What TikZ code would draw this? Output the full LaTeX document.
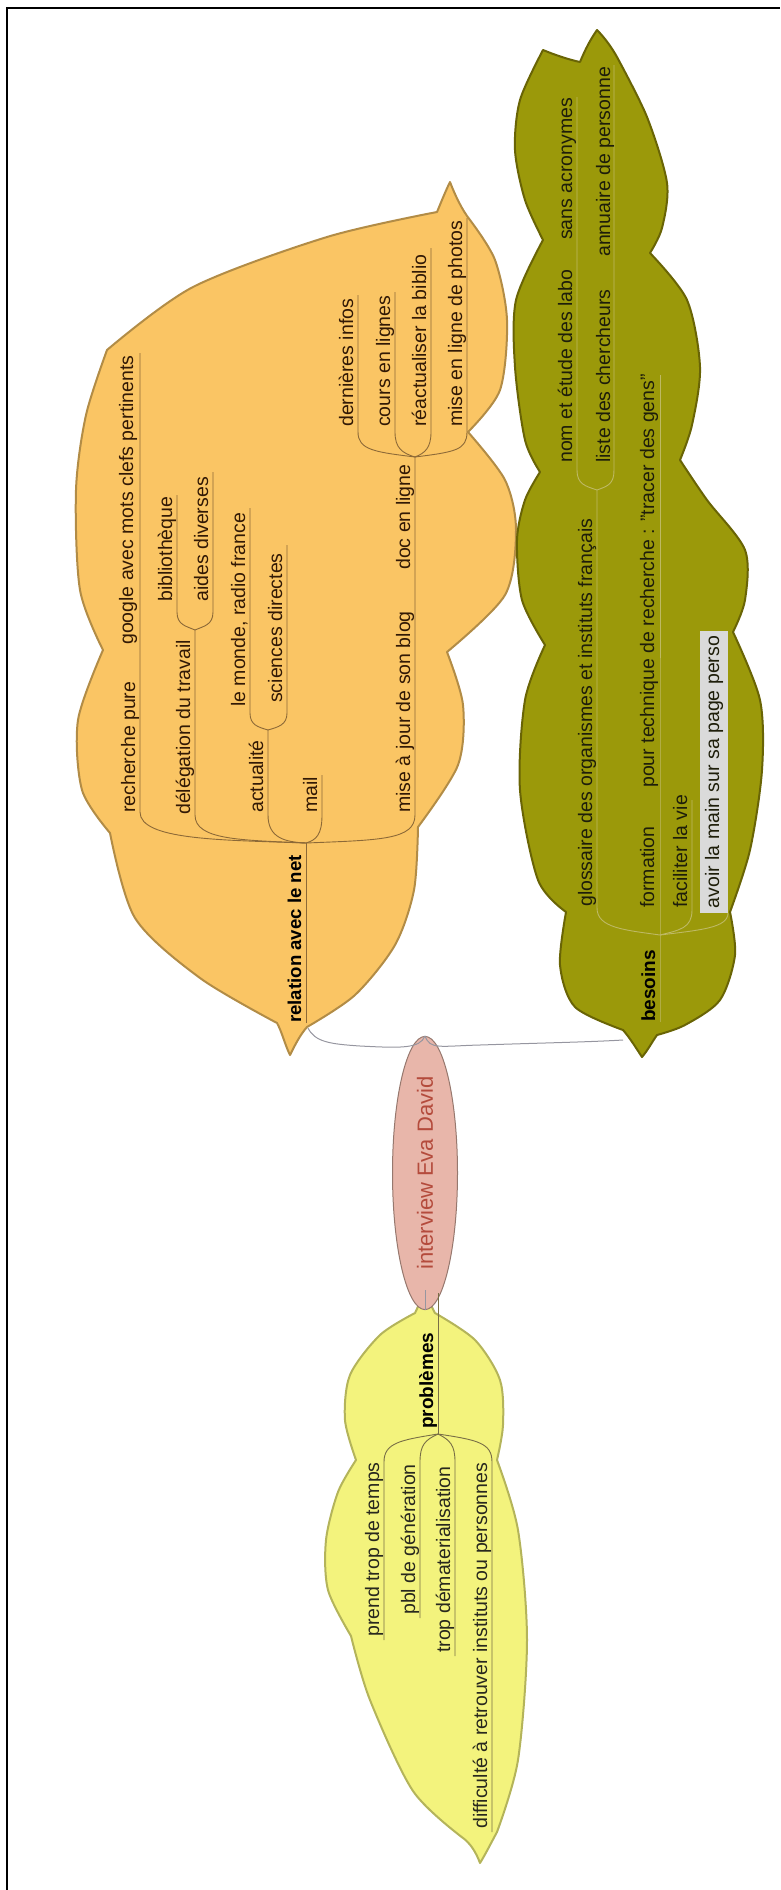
\documentclass[tikz,border=0pt]{standalone}
\usepackage{fontspec}
\setmainfont{Liberation Sans}
\usetikzlibrary{shapes.geometric}
\definecolor{orFill}{RGB}{250,197,100}
\definecolor{orLine}{RGB}{178,140,70}
\definecolor{orBr}{RGB}{140,105,55}
\definecolor{orText}{RGB}{50,25,5}
\definecolor{yeFill}{RGB}{243,243,125}
\definecolor{yeLine}{RGB}{180,180,90}
\definecolor{yeBr}{RGB}{120,110,70}
\definecolor{yeText}{RGB}{40,40,30}
\definecolor{olFill}{RGB}{155,153,10}
\definecolor{olLine}{RGB}{105,100,5}
\definecolor{olBr}{RGB}{190,185,100}
\definecolor{olText}{RGB}{30,30,10}
\definecolor{rtFill}{RGB}{232,182,170}
\definecolor{rtLine}{RGB}{150,120,110}
\definecolor{rtText}{RGB}{180,75,60}
\definecolor{connCol}{RGB}{150,150,160}
\definecolor{boxGrey}{RGB}{218,218,218}
\begin{document}
\begin{tikzpicture}[x=1pt,y=-1pt,
  lbl/.style={rotate=90, anchor=base west, inner sep=0pt, font=\fontsize{19.5}{22}\selectfont},
  olbl/.style={lbl, text=orText},
  ylbl/.style={lbl, text=yeText},
  vlbl/.style={lbl, text=olText},
  bold/.style={font=\fontsize{19}{22}\selectfont\bfseries, text=black},
  obr/.style={draw=orBr, line width=0.9pt},
  ybr/.style={draw=yeBr, line width=0.9pt},
  vbr/.style={draw=olBr, line width=0.9pt},
  conn/.style={draw=connCol, line width=1pt}]
\useasboundingbox (0,0) rectangle (780,1890);
% frame
\draw[line width=2pt] (7,1890) -- (7,8) -- (780,8);

% ---------- orange shape ----------
\path[fill=orFill, draw=orLine, line width=2pt, line join=round] (450,182)
  .. controls (455,195) and (462,210) .. (470,220)
  -- plot[smooth] coordinates {(470,220) (495,260) (507,320) (500,390) (468,432)}
  -- plot[smooth] coordinates {(468,432) (505,480) (516,530) (505,595) (447,652)}
  -- plot[smooth] coordinates {(447,652) (463,705) (458,765) (418,827)}
  -- plot[smooth] coordinates {(418,827) (414,890) (395,945) (355,995) (307,1027)}
  .. controls (300,1035) and (295,1045) .. (290,1055)
  .. controls (285,1045) and (282,1032) .. (277,1023)
  -- plot[smooth] coordinates {(277,1023) (200,978) (135,918) (110,833)}
  -- plot[smooth] coordinates {(110,833) (82,790) (78,720) (103,650)}
  -- plot[smooth] coordinates {(103,650) (80,590) (76,490) (86,415) (107,350)}
  -- plot[smooth] coordinates {(107,350) (193,287) (327,237) (437,212)}
  .. controls (442,200) and (446,190) .. (450,182) -- cycle;

% ---------- olive shape ----------
\path[fill=olFill, draw=olLine, line width=2pt, line join=round] (597,30)
  .. controls (605,38) and (612,48) .. (617,57)
  -- plot[smooth] coordinates {(617,57) (647,117) (667,183) (662,228) (650,253)}
  -- plot[smooth] coordinates {(650,253) (687,300) (700,367) (692,425) (680,460)}
  -- plot[smooth] coordinates {(680,460) (707,500) (745,550) (745,600) (733,632)}
  -- plot[smooth] coordinates {(733,632) (760,700) (762,770) (750,850) (730,912)}
  -- plot[smooth] coordinates {(730,912) (735,955) (720,1000) (685,1025) (657,1035)}
  .. controls (652,1042) and (648,1050) .. (642,1057)
  .. controls (636,1048) and (630,1038) .. (623,1030)
  -- plot[smooth] coordinates {(623,1030) (575,1007) (560,965) (566,912)}
  -- plot[smooth] coordinates {(566,912) (538,880) (520,790) (525,700) (545,645)}
  -- plot[smooth] coordinates {(545,645) (522,600) (517,540) (525,500) (540,472)}
  -- plot[smooth] coordinates {(540,472) (525,440) (515,367) (516,300) (543,240)}
  -- plot[smooth] coordinates {(543,240) (525,200) (515,150) (520,100) (543,50)}
  .. controls (555,55) and (570,60) .. (580,62)
  .. controls (585,50) and (590,40) .. (597,30) -- cycle;

% ---------- yellow shape ----------
\path[fill=yeFill, draw=yeLine, line width=2pt, line join=round] (425,1288)
  .. controls (428,1298) and (431,1306) .. (435,1313)
  -- plot[smooth] coordinates {(435,1313) (475,1340) (500,1380) (503,1425) (497,1460)}
  -- plot[smooth] coordinates {(497,1460) (518,1530) (527,1640) (518,1760) (497,1832)}
  .. controls (490,1845) and (485,1855) .. (480,1863)
  .. controls (476,1852) and (470,1843) .. (463,1838)
  -- plot[smooth] coordinates {(463,1838) (413,1791) (370,1700) (351,1636)}
  -- plot[smooth] coordinates {(351,1636) (328,1590) (326,1540) (338,1492) (356,1460)}
  -- plot[smooth] coordinates {(356,1460) (345,1420) (350,1375) (380,1335) (415,1313)}
  .. controls (419,1305) and (422,1296) .. (425,1288) -- cycle;

% ---------- root ----------
\node[ellipse, rotate=90, fill=rtFill, draw=rtLine, line width=1pt, minimum width=230pt, minimum height=65pt, inner sep=0pt,
      text=rtText, font=\fontsize{22}{24}\selectfont] (root) at (425,1173) {interview Eva David};
\coordinate (otip) at (308,1028);
\coordinate (btip) at (623,1040);
\coordinate (ytip) at (425,1290);
\draw[conn] (otip) .. controls (315,1042) and (330,1044) .. (360,1046)
  .. controls (400,1048) and (420,1049) .. (root.east);
\draw[conn] (root.east) .. controls (430,1050) and (440,1046) .. (480,1045)
  .. controls (540,1043) and (590,1042) .. (btip);
\draw[conn] (root.west) -- (ytip);

% ---------- orange branches ----------
\coordinate (oj) at (306,843);
\coordinate (oj2) at (195,630);
\coordinate (oj3) at (268,730);
\coordinate (oj4) at (415,457);
\draw[obr] (306,1023) -- (oj);
\draw[obr] (oj) .. controls (220,840) and (140,840) .. (140,812) -- (140,353);
\draw[obr] (oj) .. controls (240,840) and (195,840) .. (195,815) -- (oj2);
\draw[obr] (oj) .. controls (285,842) and (268,838) .. (268,815) -- (oj3);
\draw[obr] (oj) .. controls (316,840) and (322,835) .. (322,815) -- (322,775);
\draw[obr] (oj) .. controls (380,840) and (415,840) .. (415,815) -- (oj4);
\draw[obr] (oj2) .. controls (186,626) and (177,625) .. (177,612) -- (177,495);
\draw[obr] (oj2) .. controls (204,626) and (213,625) .. (213,612) -- (213,472);
\draw[obr] (oj3) .. controls (258,727) and (250,725) .. (250,713) -- (250,508);
\draw[obr] (oj3) .. controls (278,727) and (287,725) .. (287,713) -- (287,545);
\draw[obr] (oj4) .. controls (375,452) and (358,450) .. (358,432) -- (358,295);
\draw[obr] (oj4) .. controls (402,453) and (395,448) .. (395,432) -- (395,292);
\draw[obr] (oj4) .. controls (425,453) and (431,448) .. (431,432) -- (431,248);
\draw[obr] (oj4) .. controls (455,452) and (467,450) .. (467,432) -- (467,218);

% ---------- yellow branches ----------
\coordinate (yj) at (438,1434);
\draw[ybr] (438,1293) -- (yj);
\draw[ybr] (yj) .. controls (400,1440) and (384,1443) .. (384,1462) -- (384,1640);
\draw[ybr] (yj) .. controls (425,1440) and (420,1445) .. (420,1462) -- (420,1618);
\draw[ybr] (yj) .. controls (450,1440) and (455,1445) .. (455,1462) -- (455,1656);
\draw[ybr] (yj) .. controls (478,1440) and (492,1443) .. (492,1462) -- (492,1832);

% ---------- olive branches ----------
\coordinate (vj) at (660,935);
\coordinate (vj2) at (597,490);
\draw[vbr] (660,1022) -- (vj) -- (660,375);
\draw[vbr] (vj) .. controls (625,930) and (597,928) .. (597,908) -- (vj2);
\draw[vbr] (vj2) .. controls (585,486) and (577,484) .. (577,470) -- (577,97);
\draw[vbr] (vj2) .. controls (608,486) and (614,484) .. (614,470) -- (614,65);
\draw[vbr] (vj) .. controls (680,930) and (692,928) .. (692,910) -- (692,800);
\draw[vbr] (vj) .. controls (700,930) and (728,928) .. (728,913);

% ---------- orange labels ----------
\node[olbl, bold, font=\fontsize{18.6}{22}\selectfont\bfseries] (rel) at (301,1023) {relation avec le net};
\node[olbl] (rp) at (135,813) {recherche pure};
\node[olbl] (goo) at (133,645) {google avec mots clefs pertinents};
\node[olbl] (del) at (190,815) {délégation du travail};
\node[olbl] (bib) at (172,602) {bibliothèque};
\node[olbl] (aid) at (208,602) {aides diverses};
\node[olbl] (act) at (263,813) {actualité};
\node[olbl] (mon) at (245,707) {le monde, radio france};
\node[olbl] (sci) at (282,703) {sciences directes};
\node[olbl] (mail) at (317,813) {mail};
\node[olbl] (maj) at (410,813) {mise à jour de son blog};
\node[olbl] (doc) at (410,570) {doc en ligne};
\node[olbl] (der) at (353,427) {dernières infos};
\node[olbl] (cou) at (390,427) {cours en lignes};
\node[olbl] (rea) at (426,427) {réactualiser la biblio};
\node[olbl] (pho) at (462,427) {mise en ligne de photos};

% ---------- olive labels ----------
\node[vlbl, bold] (bes) at (655,1022) {besoins};
\node[vlbl] (glo) at (592,907) {glossaire des organismes et instituts français};
\node[vlbl] (nom) at (572,463) {nom et étude des labo};
\node[vlbl] (sans) at (572,240) {sans acronymes};
\node[vlbl] (lis) at (610,463) {liste des chercheurs};
\node[vlbl] (ann) at (610,257) {annuaire de personne};
\node[vlbl] (form) at (654,908) {formation};
\node[vlbl] (pour) at (654,788) {pour technique de recherche : "tracer des gens"};
\node[vlbl] (fac) at (687,908) {faciliter la vie};
\node[rotate=90, fill=boxGrey, inner xsep=4.5pt, inner ysep=5pt, text height=14pt, text depth=4pt,
      text=olText, font=\fontsize{19.5}{22}\selectfont] (avo) at (714,772) {avoir la main sur sa page perso};

% ---------- yellow labels ----------
\node[ylbl, bold] (pro) at (433,1429) {problèmes};
\node[ylbl] (pre) at (379,1637) {prend trop de temps};
\node[ylbl] (pbl) at (415,1615) {pbl de génération};
\node[ylbl] (tro) at (450,1653) {trop dématerialisation};
\node[ylbl] (dif) at (487,1829) {difficulté à retrouver instituts ou personnes};
\end{tikzpicture}
\end{document}
